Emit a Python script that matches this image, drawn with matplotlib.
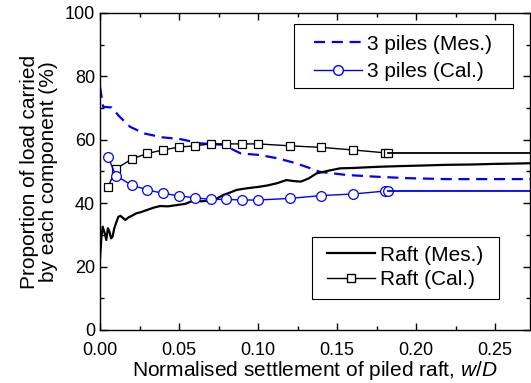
import numpy as np
import matplotlib
matplotlib.use('Agg')
from matplotlib import pyplot as plt
from matplotlib.lines import Line2D
from matplotlib.patches import Rectangle

plt.rcParams['font.family'] = ['Liberation Sans', 'DejaVu Sans']
plt.rcParams['mathtext.fontset'] = 'custom'
plt.rcParams['mathtext.rm'] = 'Liberation Sans'
plt.rcParams['mathtext.it'] = 'Liberation Sans:italic'

# Measured share of the load (%)
mes_raft_x = [0.000, 0.0008, 0.0017, 0.003, 0.004, 0.005, 0.006, 0.007, 0.008, 0.009,
              0.010, 0.0116, 0.013, 0.016, 0.018, 0.020, 0.023, 0.026, 0.030, 0.034,
              0.038, 0.043, 0.0485, 0.054, 0.059, 0.064, 0.0696, 0.074, 0.078, 0.082,
              0.0865, 0.093, 0.101, 0.106, 0.112, 0.118, 0.122, 0.127, 0.132, 0.137,
              0.145, 0.152, 0.160, 0.168, 0.177, 0.190, 0.205, 0.219, 0.235, 0.250,
              0.262, 0.272]
mes_raft_y = [22.6, 28.5, 32.6, 30.5, 28.4, 32.1, 31.0, 28.9, 29.5, 32.0,
              33.5, 35.7, 36.0, 34.7, 35.5, 36.0, 36.8, 37.2, 37.9, 38.6,
              39.1, 39.0, 39.4, 39.8, 40.8, 40.6, 40.8, 41.5, 42.6, 43.3,
              44.2, 44.7, 45.2, 45.6, 46.3, 47.3, 47.0, 46.8, 47.8, 49.4,
              50.3, 51.0, 51.1, 51.3, 51.5, 51.7, 51.9, 52.1, 52.2, 52.4,
              52.5, 52.6]

mes_pile_x = [0.000, 0.002, 0.0074, 0.012, 0.019, 0.028, 0.039, 0.051, 0.063, 0.078,
              0.089, 0.101, 0.112, 0.124, 0.132, 0.139, 0.156, 0.173, 0.194, 0.219,
              0.249, 0.272]
mes_pile_y = [76.7, 70.4, 70.2, 67.5, 64.1, 62.0, 60.8, 60.2, 58.9, 58.4,
              55.7, 55.2, 54.2, 52.6, 51.2, 49.9, 48.9, 48.4, 47.9, 47.6,
              47.6, 47.6]

# Calculated share of the load (%)
cal_x = [0.005, 0.010, 0.020, 0.030, 0.040, 0.050, 0.060, 0.070, 0.080, 0.090,
         0.100, 0.120, 0.140, 0.160, 0.180, 0.182]
cal_raft = [45.0, 50.8, 53.9, 55.7, 56.8, 57.7, 58.1, 58.7, 58.7, 58.7,
            58.7, 58.1, 57.6, 56.8, 55.9, 55.9]
cal_pile = [54.7, 48.7, 45.7, 44.2, 43.1, 42.3, 41.7, 41.2, 41.2, 41.0,
            41.0, 41.5, 42.4, 42.9, 43.8, 43.8]
x_end = 0.272

fig = plt.figure(figsize=(5.31, 3.83), dpi=100)
ax = fig.add_axes([0.1883, 0.1384, 0.8097, 0.8277])

blue = '#0000ff'
ax.plot(mes_pile_x, mes_pile_y, color=blue, lw=1.6, dashes=(5, 3))
ax.plot(mes_raft_x, mes_raft_y, color='k', lw=1.6)
ax.plot(cal_x, cal_raft, color='k', lw=1.0, marker='s', ms=6, mfc='white', mec='k', mew=0.9)
ax.plot([cal_x[-1], x_end], [cal_raft[-1], cal_raft[-1]], color='k', lw=1.3)
ax.plot(cal_x, cal_pile, color=blue, lw=1.0, marker='o', ms=7, mfc='white', mec=blue, mew=0.9)
ax.plot([cal_x[-1], x_end], [cal_pile[-1], cal_pile[-1]], color=blue, lw=1.3)

ax.set_xlim(0, x_end)
ax.set_ylim(0, 100)
ax.set_xticks(np.arange(0, 0.26, 0.05))
ax.set_xticks(np.arange(0.025, 0.27, 0.05), minor=True)
ax.set_xticklabels(['%.2f' % v for v in np.arange(0, 0.26, 0.05)])
ax.set_yticks(np.arange(0, 101, 20))
ax.set_yticks(np.arange(10, 100, 20), minor=True)
ax.tick_params(which='both', direction='in', top=True, right=True, labelsize=13, width=1)
ax.tick_params(axis='x', pad=9)
ax.tick_params(which='major', length=5)
ax.tick_params(which='minor', length=3)
for s in ax.spines.values():
    s.set_linewidth(1.0)

ax.set_xlabel('Normalised settlement of piled raft, $\\mathit{w/D}$', fontsize=15, labelpad=0)
ax.set_ylabel('Proportion of load carried\nby each component (%)', fontsize=15,
              labelpad=5, linespacing=1.0)

# legend boxes drawn separately so the inner margins can be set freely
for (x0, y0, w, h) in [(0.451, 0.763, 0.509, 0.202), (0.493, 0.098, 0.435, 0.195)]:
    ax.add_patch(Rectangle((x0, y0), w, h, transform=ax.transAxes, facecolor='white',
                           edgecolor='k', lw=0.8, zorder=5))

h1 = [Line2D([], [], color=blue, lw=1.6, dashes=(5, 3)),
      Line2D([], [], color=blue, lw=1.0, marker='o', ms=7, mfc='white', mec=blue)]
leg1 = ax.legend(h1, ['3 piles (Mes.)', '3 piles (Cal.)'], loc='upper left',
                 bbox_to_anchor=(0.497, 0.932), fontsize=15, handlelength=2.3,
                 frameon=False, borderpad=0, labelspacing=0.4,
                 handletextpad=0.25, borderaxespad=0)
leg1.set_zorder(6)
ax.add_artist(leg1)

h2 = [Line2D([], [], color='k', lw=1.6),
      Line2D([], [], color='k', lw=1.0, marker='s', ms=6, mfc='white', mec='k')]
leg2 = ax.legend(h2, ['Raft (Mes.)', 'Raft (Cal.)'], loc='upper left',
                 bbox_to_anchor=(0.528, 0.266), fontsize=15, handlelength=2.3,
                 frameon=False, borderpad=0, labelspacing=0.25,
                 handletextpad=0.25, borderaxespad=0)
leg2.set_zorder(6)

fig.savefig('out.png', dpi=100)
